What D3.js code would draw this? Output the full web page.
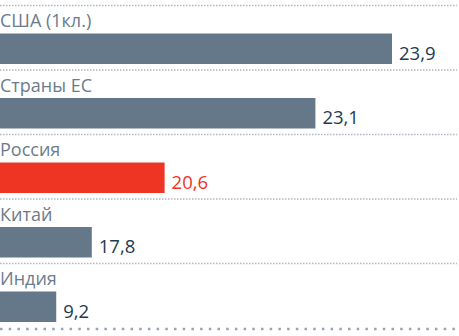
<!DOCTYPE html>
<html>
<head>
<meta charset="utf-8">
<script src="https://cdn.jsdelivr.net/npm/d3@7"></script>
<style>
  html, body { margin: 0; padding: 0; background: #ffffff; }
  svg { display: block; }
</style>
</head>
<body>
<svg id="chart" width="459" height="336"></svg>
<script>
// Data
const countries = ["США (1кл.)", "Страны ЕС", "Россия", "Китай", "Индия"];
const values = [23.9, 23.1, 20.6, 17.8, 9.2];
const valueLabels = ["23,9", "23,1", "20,6", "17,8", "9,2"];
const highlight = ["Россия"];

const W = 459, H = 336;
const svg = d3.select("#chart");

const rows = countries.map((c, i) => ({ name: c, value: values[i], label: valueLabels[i] }));

// One band per country, separated by dotted rules
const y = d3.scaleBand().domain(countries).range([5, 327.5]).padding(0);

// Steep power scale: bars emphasise differences near the top of the range
const x = d3.scalePow().exponent(7.6).domain([0, d3.max(values)]).range([56, 392]);

const barColor = "#65788a";
const hiColor = "#ee3524";
const labelColor = "#6b7c8d";
const valueColor = "#1e3b50";

// dotted separators
const seps = d3.range(countries.length).map(i => y(countries[i]));
svg.append("g").selectAll("line").data(seps).join("line")
  .attr("x1", 0).attr("x2", 457)
  .attr("y1", d => d + 0.5).attr("y2", d => d + 0.5)
  .attr("stroke", "#aeb7c3").attr("stroke-width", 1.5)
  .attr("stroke-dasharray", "1.5 1.5");

// bottom rule
const yEnd = y.range()[1] + 1.5;
svg.append("line")
  .attr("x1", 0).attr("x2", 457).attr("y1", yEnd).attr("y2", yEnd)
  .attr("stroke", "#97a4b3").attr("stroke-width", 2.5)
  .attr("stroke-dasharray", "2.5 6.2");

const g = svg.append("g").selectAll("g").data(rows).join("g")
  .attr("transform", d => `translate(0,${y(d.name)})`);

g.append("text")
  .attr("x", 0).attr("y", 22)
  .attr("font-family", "'Open Sans', sans-serif")
  .attr("font-size", 18)
  .attr("fill", labelColor)
  .text(d => d.name);

g.append("rect")
  .attr("x", 0).attr("y", 28.5)
  .attr("width", d => x(d.value))
  .attr("height", 30.5)
  .attr("fill", d => highlight.includes(d.name) ? hiColor : barColor);

g.append("text")
  .attr("x", d => x(d.value) + 7)
  .attr("y", 54.5)
  .attr("font-family", "'Open Sans', sans-serif")
  .attr("font-size", 18.5)
  .attr("fill", d => highlight.includes(d.name) ? hiColor : valueColor)
  .text(d => d.label);
</script>
</body>
</html>
